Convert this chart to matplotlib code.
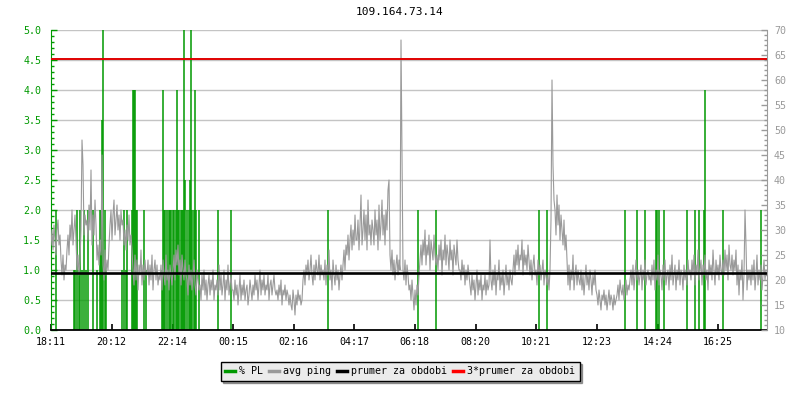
import numpy as np
import matplotlib
matplotlib.use("Agg")
import matplotlib.pyplot as plt
from matplotlib.ticker import MultipleLocator, FormatStrFormatter
from matplotlib.lines import Line2D

title = "109.164.73.14"
tick_minutes = [0, 121, 243, 364, 485, 606, 727, 849, 970, 1092, 1213, 1334]
tick_labels = ["18:11", "20:12", "22:14", "00:15", "02:16", "04:17",
               "06:18", "08:20", "10:21", "12:23", "14:24", "16:25"]

# avg ping [ms], one sample every 2 minutes starting 18:11
ping_step_min = 2
ping_ms = [
    27, 30, 26, 31, 28, 25, 30, 32, 27, 29,
    24, 21, 25, 20, 23, 22,
    26, 29, 25, 31, 28, 34, 27, 30, 33, 28,
    22, 25, 21, 24,
    30, 48, 43, 29, 33, 31,
    32, 28, 35, 30, 42, 27, 33, 29, 36, 31,
    24, 27, 23, 28, 25, 45,
    23, 20, 26, 21, 24, 22, 27,
    31, 34, 28, 33, 36, 29, 32, 35, 30, 33, 28, 34, 31,
    32, 27, 30, 26, 31, 28, 33, 27, 29, 26,
    22, 19, 25, 20, 24, 18, 23, 21, 26, 19, 23, 20, 24, 21,
    21, 24, 19, 23, 20, 25, 18, 22, 24, 20, 23, 19, 21,
    20, 23, 18, 24, 21, 19, 25, 20, 22, 18, 23, 21, 19,
    22, 25, 20, 26, 23, 27, 21, 24, 19, 25, 22, 20, 24, 21,
    20, 17, 23, 19, 22, 18, 21, 24, 19, 17, 22, 20, 18,
    19, 16, 21, 18, 22, 17, 20, 16, 19, 21, 17, 20, 18, 22, 16, 19, 18,
    20, 17, 23, 18, 21, 17, 19, 22, 16, 20, 18, 23, 17, 19, 21, 18,
    18, 16, 20, 17, 19, 15, 18, 21, 16, 19, 17, 20, 16, 18, 19, 15, 17, 20, 18, 16,
    19, 17, 21, 18, 20, 16, 19, 22, 17, 20, 18, 21, 17, 19, 18, 21, 16, 19, 20, 17, 19, 21, 18, 17,
    18, 16, 19, 17, 20, 15, 18, 17, 19, 16, 18, 17, 15,
    17, 15, 14, 18, 16, 13, 17, 15, 18, 16, 17, 15, 16,
    20, 22, 19, 23, 21, 24, 20, 22, 25, 21, 19, 23, 20, 24, 22, 21, 25, 20, 23, 21,
    22, 20, 24, 19, 23, 21, 26, 20, 22, 18, 24, 21, 19, 23, 20, 22, 18, 21, 23, 20,
    23, 26, 22, 27, 25, 29, 24, 28, 31, 26, 30, 27, 33, 28,
    28, 32, 26, 31, 37, 27, 30, 34, 28, 33, 26, 36, 29, 31, 27, 32,
    30, 27, 34, 29, 32, 26, 35, 28, 31, 36, 29, 33, 27, 34, 30, 38, 40,
    25, 22, 26, 21, 24, 20, 23, 25, 21, 24, 22,
    68, 45,
    22, 20, 24, 19, 23, 21, 18,
    19, 16, 20, 17, 14, 18, 15, 19, 17, 21,
    24, 27, 23, 28, 25, 30, 23, 27, 25, 29, 22, 28, 26, 24, 29, 25, 23,
    25, 22, 27, 24, 28, 21, 26, 24, 29, 23, 27, 25, 22, 28, 24, 26, 21, 27, 25, 23, 28, 24, 22,
    22, 20, 24, 21, 23, 19, 22, 20, 23, 21,
    19, 17, 21, 18, 20, 16, 19, 22, 17, 20, 18, 21, 16, 19, 18, 21, 17, 20, 18, 19,
    28, 20, 18, 22, 19, 23, 17, 21, 20, 24, 18, 21, 19, 22, 17, 20, 23, 19, 21, 18, 22, 20, 19,
    22, 25, 21, 26, 23, 27, 22, 25, 24, 28, 21, 26, 23, 25, 22, 27, 24,
    21, 24, 20, 23, 25, 21, 22, 19, 24, 21, 23, 20, 22, 24, 19, 22, 21,
    19, 21, 18, 22,
    32, 60, 43, 36,
    34, 29, 37, 31, 35, 28, 33, 30, 27, 32, 26, 29,
    24, 19, 23, 18, 22, 20, 25, 18, 21, 23, 19, 22, 20,
    19, 22, 18, 21, 17, 20, 23, 19, 21, 18, 22, 20, 17, 21, 19, 22, 18,
    17, 15, 18, 16, 14, 17, 16, 18, 15, 17, 14, 16, 18, 15, 17, 16, 14, 17, 15, 16,
    17, 19, 16, 20, 18, 17, 19, 16, 18, 20, 17, 19, 18,
    20, 22, 19, 23, 18, 21, 24, 20, 22, 19, 21, 23, 18, 22, 20, 24, 19, 21, 22, 20,
    21, 19, 23, 20, 24, 18, 22, 20, 25, 19, 22, 21, 18, 23, 20, 24, 19, 21, 22, 18,
    23, 20, 25, 19, 21, 23, 18, 22, 20, 24, 19, 22, 21, 18, 23, 20, 22, 19, 24, 21,
    22, 20, 24, 21, 25, 19, 23, 21, 26, 20, 22, 24, 19, 23, 21, 25, 20, 22, 18, 24,
    21, 23, 20, 26, 22, 19, 24, 21, 23, 20, 25, 22, 21,
    24, 21, 26, 22, 25, 20, 27, 23, 22, 25, 21, 24, 22, 26,
    19, 23, 17, 22, 20, 24, 16, 21, 34, 27, 18, 22, 20,
    22, 19, 23, 20, 24, 18, 21, 25, 19, 22, 20, 23, 18, 21, 24, 20, 22,
]
prumer_ms = 21.4  # period average as shown by the black line

# packet loss events: minutes after 18:11 and % PL
pl_minutes = [
    9, 46, 48, 52, 56, 58, 62, 66, 70, 74, 84, 92, 98, 100, 102, 104, 108, 110,
    142, 146, 150, 152, 162, 164, 166, 168, 170, 172, 186, 190,
    222, 224, 226, 228, 232, 236, 238, 240, 244, 246, 250, 252, 254, 256,
    260, 262, 264, 266, 268, 272, 276, 278, 280, 282, 286, 288, 290, 296,
    334, 360, 554, 733, 769, 975, 991, 1147, 1171, 1187, 1209, 1212, 1216,
    1225, 1271, 1288, 1295, 1305, 1307, 1343, 1419,
]
pl_pct = [
    2.0, 1.0, 1.0, 2.0, 1.0, 2.0, 1.0, 2.0, 1.0, 2.0, 2.0, 1.0, 2.0, 2.0, 3.5, 5.0, 2.0, 1.0,
    1.0, 2.0, 1.0, 2.0, 2.0, 4.0, 4.0, 4.0, 2.0, 2.0, 2.0, 1.0,
    1.0, 4.0, 2.0, 2.0, 2.0, 2.0, 2.0, 2.0, 2.0, 2.0, 2.0, 4.0, 2.0, 2.0,
    2.0, 2.0, 2.0, 5.0, 2.5, 2.0, 2.0, 2.5, 5.0, 2.0, 2.0, 4.0, 2.0, 2.0,
    2.0, 2.0, 2.0, 2.0, 2.0, 2.0, 2.0, 2.0, 2.0, 2.0, 2.0, 2.0, 2.0,
    2.0, 2.0, 2.0, 2.0, 2.0, 4.0, 2.0, 2.0,
]

legend_labels = ["% PL", "avg ping", "prumer za obdobi", "3*prumer za obdobi"]

GREEN = "#009900"
GRAY = "#9a9a9a"
GRID = "#c4c4c4"
FS = 7.2
plt.rcParams["font.family"] = ["DejaVu Sans Mono"]
plt.rcParams["font.size"] = FS

fig = plt.figure(figsize=(8, 4), dpi=100)
ax = fig.add_axes([51 / 800, 1 - 330 / 400, (767 - 51) / 800, 300 / 400])
ax2 = ax.twinx()

ping = np.array(ping_ms, dtype=float)
t = np.arange(len(ping)) * ping_step_min

ax.vlines(pl_minutes, 0, pl_pct, color=GREEN, lw=1.1, zorder=2)
ax2.plot(t, ping, color=GRAY, lw=0.8, zorder=3)
ax2.axhline(prumer_ms, color="black", lw=1.9, zorder=5)
ax2.axhline(3 * prumer_ms, color="#e00000", lw=1.4, zorder=5)

ax.set_xlim(0, 1432)
ax.set_ylim(0, 5)
ax2.set_ylim(10, 70)
ax.set_axisbelow(True)
ax.yaxis.grid(True, color=GRID, lw=1.0)
ax.xaxis.grid(False)

ax.set_xticks(tick_minutes)
ax.set_xticklabels(tick_labels)
ax.yaxis.set_major_locator(MultipleLocator(0.5))
ax.yaxis.set_minor_locator(MultipleLocator(0.1))
ax.yaxis.set_major_formatter(FormatStrFormatter("%.1f"))
ax2.yaxis.set_major_locator(MultipleLocator(5))
ax2.yaxis.set_minor_locator(MultipleLocator(1))

ax.tick_params(axis="y", which="major", direction="in", length=4, width=1,
               color=GREEN, labelcolor=GREEN, pad=7, labelsize=FS)
ax.tick_params(axis="y", which="minor", direction="in", length=2.5, width=1, color=GREEN)
ax.tick_params(axis="x", direction="in", length=4, width=1.2, color="black",
               pad=5, labelsize=FS)
ax2.tick_params(axis="y", which="major", direction="in", length=4, width=1,
                color=GRAY, labelcolor=GRAY, pad=5, labelsize=FS)
ax2.tick_params(axis="y", which="minor", direction="in", length=2.5, width=1, color=GRAY)

for sp in ["top", "right"]:
    ax.spines[sp].set_visible(False)
for sp in ["top", "left", "bottom"]:
    ax2.spines[sp].set_visible(False)
ax.spines["left"].set_color(GREEN)
ax.spines["bottom"].set_color("black")
ax.spines["bottom"].set_linewidth(1.3)
ax2.spines["right"].set_color(GRAY)

fig.text(0.5, 1 - 12 / 400, title, ha="center", va="center", fontsize=8)

handles = [Line2D([], [], color=c, lw=2.5) for c in [GREEN, "#999999", "black", "red"]]
leg = fig.legend(handles, legend_labels, loc="center", bbox_to_anchor=(0.5, 1 - 371 / 400),
                 ncol=4, frameon=True, fancybox=False, shadow=True,
                 handlelength=1.0, handletextpad=0.4, columnspacing=0.6,
                 borderpad=0.45, fontsize=FS)
leg.get_frame().set_edgecolor("black")
leg.get_frame().set_facecolor("#ebebeb")
leg.get_frame().set_alpha(1)
leg.get_frame().set_linewidth(1.0)

fig.savefig("out.png", dpi=100)
